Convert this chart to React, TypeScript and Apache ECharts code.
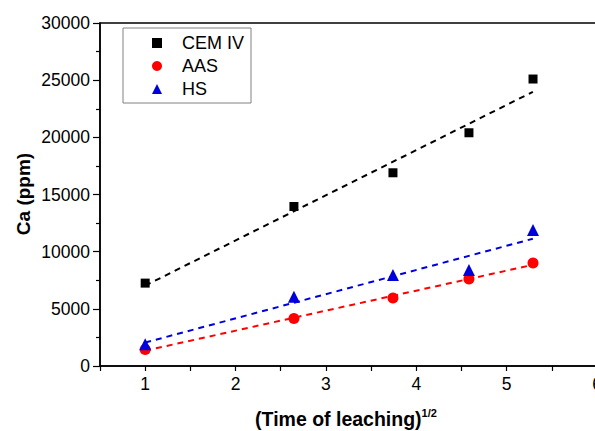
import React, { useEffect, useRef } from "react";
import * as echarts from "echarts";

const xValues = [1, 2.646, 3.742, 4.583, 5.292];
const cemIV = [7250, 13950, 16900, 20400, 25100];
const aas = [1450, 4150, 5950, 7600, 9000];
const hs = [1900, 6050, 7950, 8400, 11900];

const fitX = [1, 5.29];
const cemFit = [7030, 23980];
const aasFit = [1340, 8850];
const hsFit = [2050, 11130];

const xTicks = [1, 2, 3, 4, 5, 6];

const FONT = 'Arial, "Liberation Sans", sans-serif';

export default function App() {
  const ref = useRef<HTMLDivElement>(null);
  useEffect(() => {
    if (!ref.current) return;
    const chart = echarts.init(ref.current, null, { renderer: "svg" });
    const pairs = (ys: number[]) => xValues.map((x, i) => [x, ys[i]]);
    const fitPairs = (ys: number[]) => fitX.map((x, i) => [x, ys[i]]);
    const dashed = (name: string, color: string, ys: number[]) => ({
      name,
      type: "line",
      data: fitPairs(ys),
      symbol: "none",
      silent: true,
      lineStyle: { color, width: 2, type: [6, 5] },
      z: 1,
    });
    chart.setOption({
      animation: false,
      backgroundColor: "#fff",
      textStyle: { fontFamily: FONT },
      grid: {
        left: 100,
        top: 23,
        height: 343,
        width: 497,
        outerBoundsMode: "none",
        containLabel: false,
        show: true,
        borderColor: "#000",
        borderWidth: 1.5,
        backgroundColor: "transparent",
      },
      legend: {
        data: [
          { name: "CEM IV", icon: "rect" },
          { name: "AAS", icon: "circle" },
          { name: "HS", icon: "triangle" },
        ],
        orient: "vertical",
        left: 123,
        top: 28,
        padding: [6, 7, 5, 29],
        itemWidth: 10,
        itemHeight: 10,
        itemGap: 5,
        borderColor: "#808080",
        borderWidth: 1,
        borderRadius: 0,
        backgroundColor: "#fff",
        textStyle: { fontSize: 18, color: "#000", fontFamily: FONT, padding: [0, 0, 0, 15] },
      },
      xAxis: {
        type: "value",
        min: 0.5,
        max: 6,
        interval: 0.5,
        splitLine: { show: false },
        axisLine: { lineStyle: { color: "#000", width: 1.5 } },
        axisTick: { length: 5, lineStyle: { color: "#000", width: 1.2 } },
        axisLabel: {
          color: "#000",
          fontSize: 17.5,
          margin: 9,
          fontFamily: FONT,
          formatter: (v: number) => (xTicks.includes(v) ? String(v) : ""),
        },
      },
      yAxis: {
        type: "value",
        min: 0,
        max: 30000,
        interval: 5000,
        splitLine: { show: false },
        axisLine: { show: true, lineStyle: { color: "#000", width: 1.5 } },
        axisTick: { show: true, length: 7, lineStyle: { color: "#000", width: 1.2 } },
        minorTick: { show: true, splitNumber: 2, length: 4, lineStyle: { color: "#000", width: 1.2 } },
        axisLabel: {
          color: "#000",
          fontSize: 17.5,
          margin: 10,
          fontFamily: FONT,
          formatter: (v: number) => String(v),
        },
      },
      series: [
        dashed("CEM IV fit", "#000000", cemFit),
        dashed("AAS fit", "#ff0000", aasFit),
        dashed("HS fit", "#0000dd", hsFit),
        {
          name: "CEM IV",
          type: "scatter",
          data: pairs(cemIV),
          symbol: "rect",
          symbolSize: 9,
          itemStyle: { color: "#000000", opacity: 1 },
          z: 3,
        },
        {
          name: "AAS",
          type: "scatter",
          data: pairs(aas),
          symbol: "circle",
          symbolSize: 11,
          itemStyle: { color: "#ff0000", opacity: 1 },
          z: 3,
        },
        {
          name: "HS",
          type: "scatter",
          data: pairs(hs),
          symbol: "triangle",
          symbolSize: 12,
          itemStyle: { color: "#0000dd", opacity: 1 },
          z: 3,
        },
      ],
      graphic: [
        {
          type: "text",
          x: 23,
          y: 194,
          rotation: Math.PI / 2,
          style: {
            text: "Ca (ppm)",
            font: `bold 19px ${FONT}`,
            fill: "#000",
            align: "center",
            verticalAlign: "middle",
          },
        },
        {
          type: "text",
          x: 346,
          y: 419,
          style: {
            text: "{a|(Time of leaching)}{b|1/2}",
            align: "center",
            verticalAlign: "middle",
            fill: "#000",
            rich: {
              a: { fontSize: 19.5, fontWeight: "bold", fontFamily: FONT, lineHeight: 24 },
              b: { fontSize: 11, fontWeight: "bold", fontFamily: FONT, verticalAlign: "top", lineHeight: 13 },
            },
          },
        },
      ],
    });
    return () => chart.dispose();
  }, []);
  return (
    <div
      ref={ref}
      style={{ position: "fixed", left: 0, top: 0, width: 595, height: 431 }}
    />
  );
}
